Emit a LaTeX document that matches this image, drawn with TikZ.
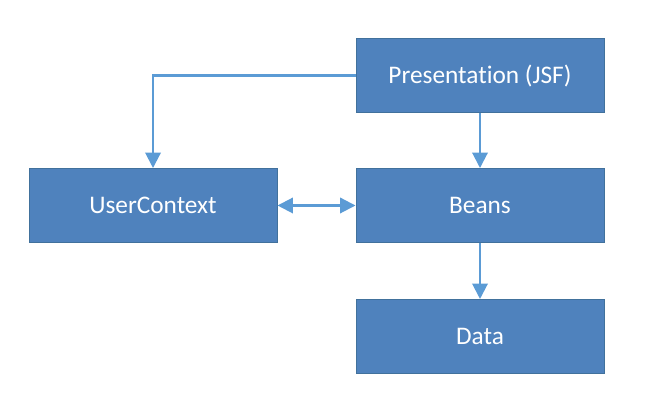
\documentclass[tikz,border=0pt]{standalone}
\usepackage{fontspec}
\setmainfont{Carlito}[Ligatures={NoCommon}]
\usetikzlibrary{arrows.meta, positioning}
\definecolor{Bfill}{RGB}{79, 130, 189}
\definecolor{Bdraw}{RGB}{65, 113, 156}
\definecolor{Carrow}{RGB}{91, 155, 213}
\tikzset{
    blkbox/.style={
        rectangle, draw=Bdraw, line width=0.7pt, fill=Bfill, text=white,
        minimum width=6.2cm, minimum height=1.85cm, inner sep=0pt,
        align=center, font=\fontsize{18}{22}\selectfont
    },
    barr/.style={-{Triangle[length=11pt, width=11pt]}, line width=1.5pt, Carrow},
    bdarr/.style={{Triangle[length=11pt, width=11pt]}-{Triangle[length=11pt, width=11pt]}, line width=1.5pt, Carrow},
}
\begin{document}
\begin{tikzpicture}

    \useasboundingbox (0,0) rectangle (16.175,-10.125);

    \node [blkbox] (pres) at (12.0,-1.8875) {Presentation (JSF)};
    \node [blkbox, below=1.375cm of pres] (beans) {Beans};
    \node [blkbox, left=1.95cm of beans] (uctx) {UserContext};
    \node [blkbox, below=1.4cm of beans] (data) {Data};

    \draw [barr] (pres.west) -| (uctx.north);
    \draw [barr] (pres) -- (beans);
    \draw [barr] (beans) -- (data);
    \draw [bdarr] (uctx) -- (beans);

\end{tikzpicture}
\end{document}
